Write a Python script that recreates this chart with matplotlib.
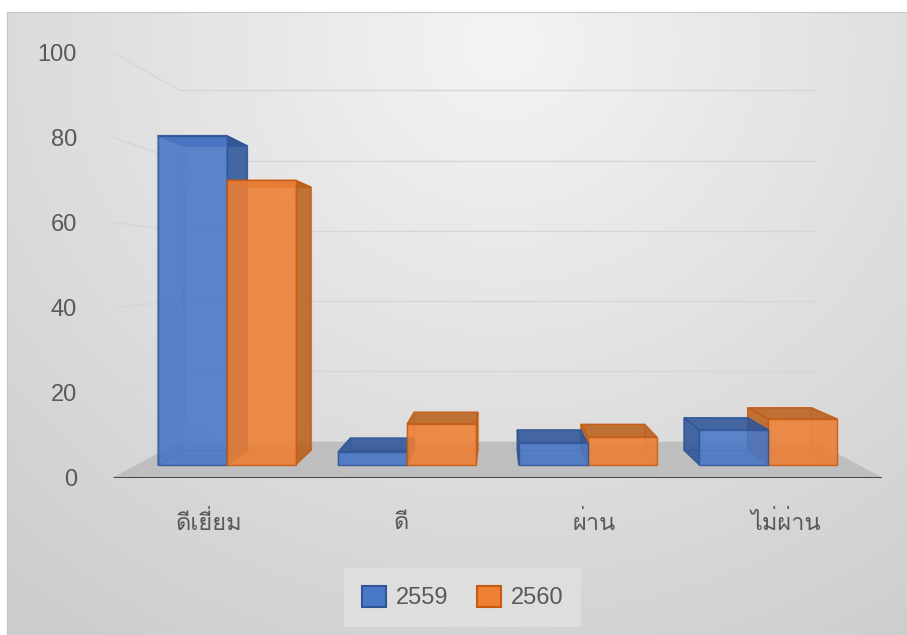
import numpy as np
import matplotlib
matplotlib.use("Agg")
import matplotlib.pyplot as plt
from matplotlib.patches import Polygon, Patch

# chart data (values in percent)
categories = ["ดีเยี่ยม", "ดี", "ผ่าน", "ไม่ผ่าน"]
series_names = ["2559", "2560"]
values_2559 = [82.5, 3.3, 5.5, 8.8]
values_2560 = [71.3, 10.3, 7.0, 11.5]
yticks = [0, 20, 40, 60, 80, 100]

plt.rcParams["font.family"] = ["Liberation Sans", "Loma", "DejaVu Sans"]

# perspective settings (Excel 3-D column look)
VX = (len(categories) - 1) / 2.0   # vanishing point x (category units)
VY = 48.6                          # vanishing point y (value units)
K = 0.21                           # depth shrink factor
Z_NEAR, Z_FAR = 0.306, 0.728       # depth of bar faces (0 = front, 1 = back wall)
BAR_W = 0.382


def proj(x, v, d):
    s = 1.0 / (1.0 + K * d)
    return (VX + (x - VX) * s, VY + (v - VY) * s)


def draw_box(ax, x0, x1, h, face, dark, edge, z):
    n = lambda x, v: proj(x, v, Z_NEAR)
    f = lambda x, v: proj(x, v, Z_FAR)
    back = [f(x0, 0), f(x1, 0), f(x1, h), f(x0, h)]
    bottom = [n(x0, 0), n(x1, 0), f(x1, 0), f(x0, 0)]
    left = [n(x0, 0), f(x0, 0), f(x0, h), n(x0, h)]
    right = [n(x1, 0), f(x1, 0), f(x1, h), n(x1, h)]
    top = [n(x0, h), n(x1, h), f(x1, h), f(x0, h)]
    front = [n(x0, 0), n(x1, 0), n(x1, h), n(x0, h)]
    if x1 < VX:
        hidden_side, seen_side = left, right
    else:
        hidden_side, seen_side = right, left
    parts = [(back, face, 0.25), (bottom, dark, 0.3), (hidden_side, dark, 0.3),
             (top, dark, 0.85), (seen_side, dark, 0.85), (front, face, 0.85)]
    for i, (pts, col, a) in enumerate(parts):
        ax.add_patch(Polygon(pts, closed=True, facecolor=col, alpha=a,
                             edgecolor=edge, lw=1.0, zorder=z + i * 0.01))


fig = plt.figure(figsize=(9.07, 6.35), dpi=100)

# chart area background with soft radial gradient
bg = fig.add_axes([7 / 907, 0, 900 / 907, 623 / 635], zorder=0)
yy, xx = np.mgrid[0:1:300j, 0:1:400j]
r = np.clip(np.sqrt(((xx - 0.55) / 0.85) ** 2 + ((yy - 0.95) / 1.15) ** 2), 0, 1)
light = np.array([244, 244, 244]) / 255.0
dark = np.array([205, 205, 205]) / 255.0
img = light + (dark - light) * r[..., None]
bg.imshow(img, origin="lower", extent=[0, 1, 0, 1], aspect="auto")
bg.set_xlim(0, 1)
bg.set_ylim(0, 1)
bg.set_xticks([])
bg.set_yticks([])
for side in ["bottom", "right"]:
    bg.spines[side].set_visible(False)
for side in ["left", "top"]:
    bg.spines[side].set_color("#C8C8C8")

ax = fig.add_axes([113 / 907, (635 - 477.5) / 635, 769 / 907, 425 / 635], zorder=1)
ax.set_facecolor("none")
ax.set_xlim(-0.5, len(categories) - 0.5)
ax.set_ylim(0, 100)
for s in ax.spines.values():
    s.set_visible(False)

x_lo, x_hi = -0.5, len(categories) - 0.5

# back wall and side wall gridlines
for v in yticks[1:]:
    a, b = proj(x_lo, v, 1), proj(x_hi, v, 1)
    ax.plot([a[0], b[0]], [a[1], b[1]], color="#D6D6D6", lw=1.0, zorder=1)
    c = proj(x_lo, v, 0)
    ax.plot([c[0], a[0]], [c[1], a[1]], color="#D6D6D6", lw=1.0, zorder=1)

# floor
floor = [proj(x_lo, 0, 0), proj(x_hi, 0, 0), proj(x_hi, 0, 1), proj(x_lo, 0, 1)]
ax.add_patch(Polygon(floor, closed=True, facecolor="#BEBEBE", edgecolor="none", zorder=2))

# bars
styles = [
    ("#4A78C8", "#2F5597", "#2F5597"),
    ("#EE8036", "#B9611F", "#C55A11"),
]
bars = []
for i in range(len(categories)):
    bars.append((i - BAR_W, i, values_2559[i], styles[0]))
    bars.append((i, i + BAR_W, values_2560[i], styles[1]))
# paint bars farthest from the vanishing point first
bars.sort(key=lambda b: -abs((b[0] + b[1]) / 2 - VX))
for k, (x0, x1, h, (fc, dc, ec)) in enumerate(bars):
    draw_box(ax, x0, x1, h, fc, dc, ec, 3 + k * 0.1)

# front axis line
ax.plot([x_lo, x_hi], [0, 0], color="#4A4A4A", lw=2.2, zorder=20, solid_capstyle="butt")

ax.set_yticks(yticks)
ax.set_yticklabels([str(t) for t in yticks])
ax.set_xticks(range(len(categories)))
ax.set_xticklabels(categories, family="Loma")
ax.tick_params(axis="y", length=0, pad=26, labelsize=17, labelcolor="#595959")
ax.tick_params(axis="x", length=0, pad=24, labelsize=17, labelcolor="#595959")

handles = [Patch(facecolor=styles[0][0], edgecolor=styles[0][2], lw=1.5),
           Patch(facecolor=styles[1][0], edgecolor=styles[1][2], lw=1.5)]
leg = fig.legend(handles, series_names, loc="center",
                 bbox_to_anchor=((342 + 583) / 2 / 907, 1 - (567 + 628) / 2 / 635),
                 ncol=2, frameon=True, fontsize=17, handlelength=1.05, handleheight=1.0,
                 handletextpad=0.4, columnspacing=1.2, borderpad=0.75, fancybox=False)
leg.get_frame().set_facecolor("#DEDEDE")
leg.get_frame().set_edgecolor("none")
leg.get_frame().set_alpha(1)
for t in leg.get_texts():
    t.set_color("#595959")

fig.savefig("out.png", dpi=100)
